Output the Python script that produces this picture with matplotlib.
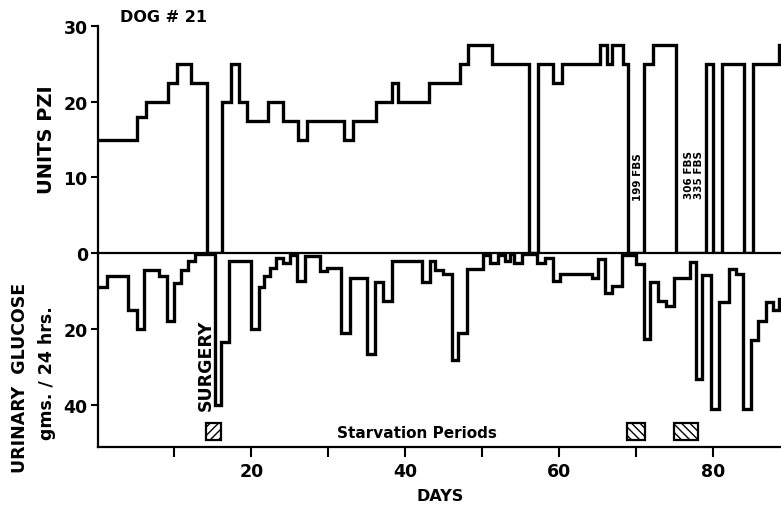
import matplotlib
matplotlib.use("Agg")
import matplotlib.pyplot as plt
from matplotlib.patches import Rectangle

plt.rcParams['font.family'] = ['DejaVu Sans']
plt.rcParams['font.weight'] = 'bold'

# ---- Data ----
# Insulin dose (Units PZI): step start days and levels
pzi_days = [0, 5.1, 6.3, 9.1, 10.3, 12.1, 14.2, 16.2, 17.3, 18.4, 19.4, 22.1, 24.1,
            26.0, 27.2, 32.0, 33.2, 36.2, 38.2, 39.1, 43.1, 47.1, 48.1, 51.2, 56.0,
            57.2, 59.2, 60.3, 65.3, 66.2, 66.9, 68.3, 68.9, 71.0, 72.2, 75.1, 79.0,
            80.0, 81.1, 84.0, 85.1, 88.6]
pzi_units = [15, 18, 20, 22.5, 25, 22.5, 0, 20, 25, 20, 17.5, 20, 17.5,
             15, 17.5, 15, 17.5, 20, 22.5, 20, 22.5, 25, 27.5, 25, 0,
             25, 22.5, 25, 27.5, 25, 27.5, 25, 0, 25, 27.5, 0, 25,
             0, 25, 0, 25, 27.5]

# Urinary glucose (gms/24 hrs): step start days and levels
glu_days = [0, 1.2, 4.0, 5.1, 6.0, 8.0, 9.0, 10.0, 10.9, 11.8, 12.7, 15.3, 16.1, 17.1,
            20.0, 21.0, 21.6, 22.4, 23.2, 24.1, 25.0, 25.9, 27.0, 28.9, 29.8, 31.7,
            32.8, 35.0, 36.0, 37.1, 38.2, 42.1, 43.2, 43.8, 44.9, 46.0, 46.8, 48.0,
            50.1, 51.0, 52.0, 52.9, 53.6, 54.1, 55.2, 57.1, 58.2, 59.2, 60.1, 64.2,
            65.0, 65.9, 66.8, 68.1, 70.0, 71.0, 71.8, 72.8, 73.9, 74.9, 77.0, 77.7,
            78.6, 79.7, 80.7, 82.0, 83.0, 83.8, 84.9, 85.8, 86.8, 87.8, 88.5]
glu_grams = [9, 6, 15, 20, 4.5, 6, 18, 8, 4.5, 2, 0.3, 40, 23.5, 2,
             20, 9, 6, 4, 1.3, 2.5, 0.5, 7.4, 0.8, 4.7, 4, 21,
             6.5, 26.5, 7.6, 12.6, 2, 7.6, 2, 4.5, 5.5, 28, 21, 4.2,
             0.6, 2.7, 0.5, 2.1, 0.3, 2.7, 0.3, 2.6, 1.3, 7.4, 5.5, 6.5,
             1.6, 10.5, 8.7, 0.5, 3, 22.6, 7.6, 12.6, 14, 6.5, 2.3, 33,
             5.8, 41, 13, 4.1, 5.5, 41, 23, 18, 13, 15, 12]

end_day = 89.5

# Surgery and starvation periods (start, end day)
surgery_period = (14.1, 16.1)
starvation_periods = [(68.8, 71.1), (74.9, 78.0)]

x_major = [20, 40, 60, 80]
x_minor = [10, 30, 50, 70]
pzi_ticks = [0, 10, 20, 30]
glu_ticks = [20, 40]

# ---- Figure ----
W, H = 781, 506
fig = plt.figure(figsize=(W / 100, H / 100), dpi=100)

def fx(px):
    return px / W

def fy(py):
    return 1 - py / H

left = fx(97.5)
ax1 = fig.add_axes([left, fy(254), 1 - left, fy(27) - fy(254)])
ax2 = fig.add_axes([left, fy(448), 1 - left, fy(254) - fy(448)], sharex=ax1)

xmax = 88.8
lw = 2.4

ax1.step(pzi_days + [end_day], pzi_units + [pzi_units[-1]], where='post', color='black', lw=lw,
         solid_joinstyle='miter')
ax2.step(glu_days + [end_day], glu_grams + [glu_grams[-1]], where='post', color='black', lw=lw,
         solid_joinstyle='miter')

ax1.set_xlim(0, xmax)
ax1.set_ylim(0, 30)
ax2.set_ylim(51, 0)

for ax in (ax1, ax2):
    ax.spines['top'].set_visible(False)
    ax.spines['right'].set_visible(False)
    ax.spines['left'].set_linewidth(1.6)
    ax.spines['bottom'].set_linewidth(1.6)
    ax.patch.set_alpha(0)

ax1.set_yticks(pzi_ticks)
ax1.tick_params(axis='y', direction='out', length=5, width=1.5, labelsize=12.5, pad=2)

ax2.set_yticks(glu_ticks)
ax2.tick_params(axis='y', direction='out', length=5, width=1.5, labelsize=12.5, pad=2)
ax2.set_xticks(x_major)
ax2.set_xticks(x_minor, minor=True)
ax2.tick_params(axis='x', which='both', direction='out', length=7, width=1.5, labelsize=12.5, pad=4)
ax1.tick_params(axis='x', which='both', bottom=False, labelbottom=False)

# Hatched boxes
rect = Rectangle((surgery_period[0], 44.7), surgery_period[1] - surgery_period[0], 4.5,
                 facecolor='white', edgecolor='black', lw=1.6, hatch='////', clip_on=False)
ax2.add_patch(rect)
for s, e in starvation_periods:
    ax2.add_patch(Rectangle((s, 44.7), e - s, 4.5, facecolor='white', edgecolor='black',
                            lw=1.6, hatch='\\\\\\\\', clip_on=False))

# Annotations
ax2.text(41.5, 47.2, 'Starvation Periods', ha='center', va='center', fontsize=11)
ax2.text(14.0, 41.3, 'SURGERY', rotation=90, ha='center', va='bottom', fontsize=12.5)
ax1.text(70.2, 7.0, '199 FBS', rotation=90, ha='center', va='bottom', fontsize=7.5)
ax1.text(76.9, 7.3, '306 FBS', rotation=90, ha='center', va='bottom', fontsize=7.5)
ax1.text(78.1, 7.3, '335 FBS', rotation=90, ha='center', va='bottom', fontsize=7.5)

fig.text(fx(164), fy(18), 'DOG # 21', ha='center', va='center', fontsize=11.5)
fig.text(fx(47), fy(140), 'UNITS PZI', rotation=90, ha='center', va='center', fontsize=14)
fig.text(fx(20), fy(378), 'URINARY  GLUCOSE', rotation=90, ha='center', va='center', fontsize=12.5)
fig.text(fx(47), fy(373), 'gms. / 24 hrs.', rotation=90, ha='center', va='center', fontsize=12.5)
fig.text(fx(440), fy(497), 'DAYS', ha='center', va='center', fontsize=11.5)

fig.savefig('out.png', dpi=100)
